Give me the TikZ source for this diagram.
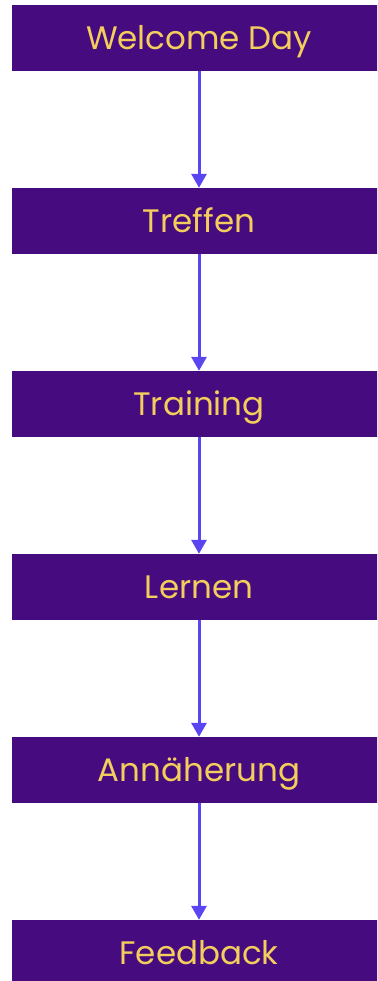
\documentclass[tikz,border=0pt]{standalone}
\usepackage{fontspec}
\setmainfont{Poppins}
\usetikzlibrary{arrows.meta}
\definecolor{boxpurple}{HTML}{470B80}
\definecolor{textyellow}{HTML}{F3CE5C}
\definecolor{arrowblue}{HTML}{5B45F0}
\tikzset{
  stepbox/.style={rectangle, fill=boxpurple, draw=none, minimum width=374pt, minimum height=66pt, inner sep=0pt, text=textyellow, font=\fontsize{32.5pt}{38pt}\selectfont, text height=23pt, text depth=0pt},
  flowarrow/.style={draw=arrowblue, line width=3pt, -{Triangle[width=15pt,length=14pt]}}
}
\begin{document}
\begin{tikzpicture}[x=1pt,y=1pt]
\useasboundingbox (0,0) rectangle (377,-981);
\clip (0,0) rectangle (377,-981);
\node[stepbox] (n1) at (199,-38) {Welcome Day};
\node[stepbox] (n2) at (199,-221) {Treffen};
\node[stepbox] (n3) at (199,-404) {Training};
\node[stepbox] (n4) at (199,-587) {Lernen};
\node[stepbox] (n5) at (199,-770) {Annäherung};
\node[stepbox] (n6) at (199,-953) {Feedback};
\draw[flowarrow] (n1.south) -- (n2.north);
\draw[flowarrow] (n2.south) -- (n3.north);
\draw[flowarrow] (n3.south) -- (n4.north);
\draw[flowarrow] (n4.south) -- (n5.north);
\draw[flowarrow] (n5.south) -- (n6.north);
\end{tikzpicture}
\end{document}
